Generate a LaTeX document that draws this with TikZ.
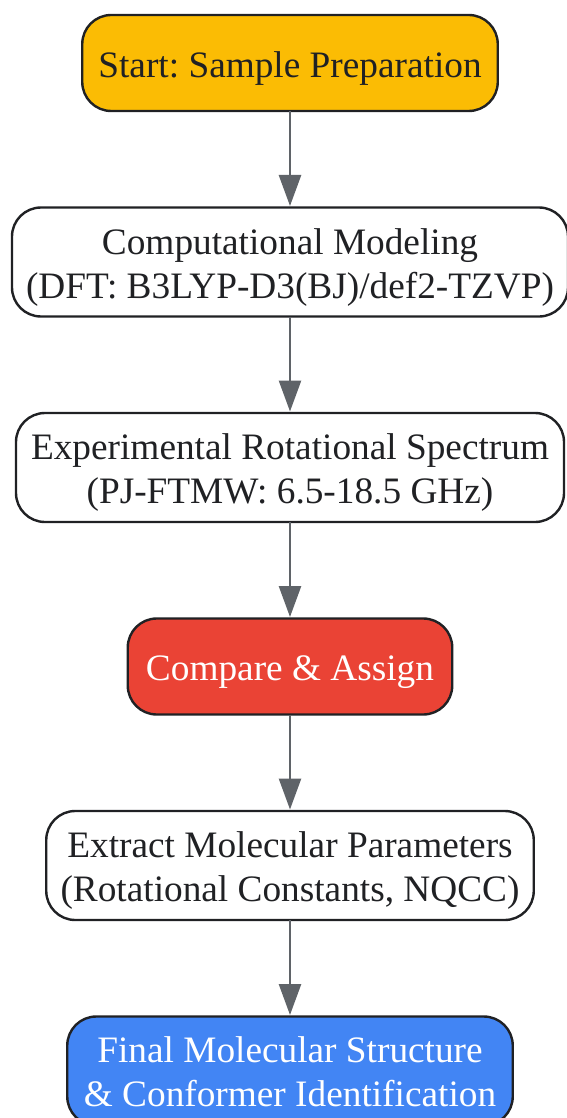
\documentclass[tikz,border=0pt]{standalone}
\usepackage{fontspec}
\setmainfont{Liberation Serif}
\frenchspacing
\usetikzlibrary{arrows.meta,positioning}
\definecolor{startyellow}{RGB}{251,188,4}
\definecolor{compred}{RGB}{234,67,53}
\definecolor{finalblue}{RGB}{66,133,244}
\definecolor{inkgrey}{RGB}{32,33,36}
\definecolor{arrowgrey}{RGB}{95,99,104}

\begin{document}
\begin{tikzpicture}[x=1pt, y=1pt,
    box/.style={rectangle, draw=inkgrey, line width=2.4pt, outer sep=0pt, fill=white, rounded corners=29pt, inner sep=0pt, minimum height=109pt, align=center, text height=80pt, text=inkgrey, font=\fontsize{37.3}{44}\selectfont},
    pill/.style={box, minimum height=96pt, text height=37pt},
    arrow/.style={-{Triangle[length=31pt, width=22pt]}, line width=2.6pt, draw=arrowgrey, shorten >=1.5pt}
]
    \useasboundingbox (0,0) rectangle (566,-1118);

    \node[pill, fill=startyellow, minimum width=415.5pt] (start) at (290,-63) {Start: Sample Preparation};
    \node[box, minimum width=556pt, below=96.5pt of start] (model) {Computational Modeling\\(DFT: B3LYP-D3(BJ)/def2-TZVP)};
    \node[box, minimum width=548pt, below=96.5pt of model] (spectrum) {Experimental Rotational Spectrum\\(PJ-FTMW: 6.5-18.5 GHz)};
    \node[pill, fill=compred, text=white, minimum width=324.5pt, below=96.5pt of spectrum] (assign) {Compare \& Assign};
    \node[box, minimum width=487.5pt, below=96.5pt of assign] (params) {Extract Molecular Parameters\\(Rotational Constants, NQCC)};
    \node[box, fill=finalblue, text=white, text height=71pt, minimum width=445.5pt, below=96.5pt of params] (final) {Final Molecular Structure\\\& Conformer Identification};

    \draw[arrow] (start) -- (model);
    \draw[arrow] (model) -- (spectrum);
    \draw[arrow] (spectrum) -- (assign);
    \draw[arrow] (assign) -- (params);
    \draw[arrow] (params) -- (final);
\end{tikzpicture}
\end{document}
